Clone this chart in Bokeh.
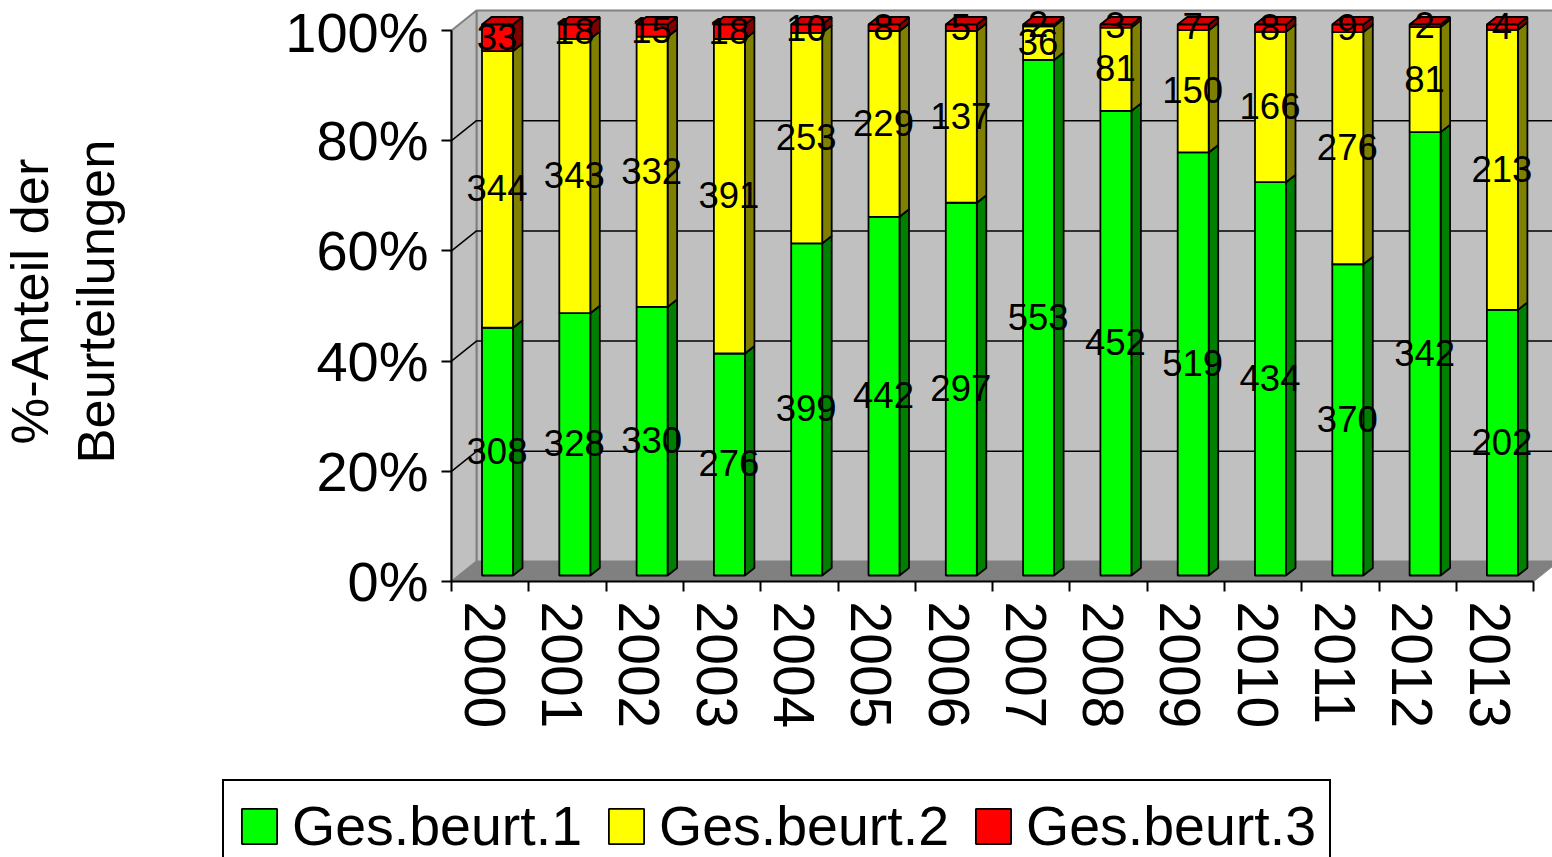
from bokeh.plotting import figure
from bokeh.models import Range1d, FixedTicker, Legend, LegendItem, LinearAxis
from bokeh.core.properties import value
from bokeh.embed import file_html
from bokeh.resources import INLINE
import math

years = [2000, 2001, 2002, 2003, 2004, 2005, 2006, 2007, 2008, 2009, 2010, 2011, 2012, 2013]
beurt1 = [308, 328, 330, 276, 399, 442, 297, 553, 452, 519, 434, 370, 342, 202]
beurt2 = [344, 343, 332, 391, 253, 229, 137, 36, 81, 150, 166, 276, 81, 213]
beurt3 = [33, 18, 15, 18, 10, 8, 5, 2, 3, 7, 8, 9, 2, 4]
series_names = ["Ges.beurt.1", "Ges.beurt.2", "Ges.beurt.3"]
pct_ticks = [0, 20, 40, 60, 80, 100]
title_lines = ["%-Anteil der", "Beurteilungen"]

FONT = "Liberation Sans"
PX_X = 77.3   # pixels per category
PX_Y = 5.51   # pixels per percent


def dx(px):
    return px / PX_X


def dy(px):
    return px / PX_Y


W, H = 1552, 857
ORIGIN_X, ORIGIN_Y = 451, 581  # where category 0 / 0% lie on the canvas

p = figure(width=W, height=H, output_backend="svg", toolbar_location=None,
           x_range=Range1d(dx(-ORIGIN_X), dx(W - ORIGIN_X)),
           y_range=Range1d(dy(ORIGIN_Y - H), dy(ORIGIN_Y)),
           x_axis_type=None, y_axis_type=None,
           min_border_left=0, min_border_bottom=0, min_border_top=0, min_border_right=0)
p.outline_line_color = None
p.grid.visible = False
p.background_fill_color = "white"

n = len(years)
depth_x, depth_y = dx(25), dy(20)
# floor and walls
p.patch([0, depth_x, n + depth_x + dx(30), n + depth_x, n], [0, depth_y, depth_y, depth_y, 0],
        fill_color="#808080", line_color="#808080")
p.patch([depth_x, n + depth_x + dx(30), n + depth_x + dx(30), depth_x],
        [depth_y, depth_y, 100 + depth_y, 100 + depth_y],
        fill_color="#C0C0C0", line_color="#808080", line_width=2)
p.patch([0, depth_x, depth_x, 0], [0, depth_y, 100 + depth_y, 100],
        fill_color="#C0C0C0", line_color="#808080", line_width=2)
for t in pct_ticks[1:-1]:
    p.line([0, depth_x, n + depth_x + dx(30)], [t, t + depth_y, t + depth_y],
           line_color="black", line_width=1.5)

# bars
bar_off = dx(30.5)
bar_w = dx(31)
side_x, side_y = dx(9.5), dy(7.5)
base = dy(6)
fronts = ["#00FF00", "#FFFF00", "#FF0000"]
sides = ["#008000", "#808000", "#800000"]
tops = ["#008000", "#808000", "#C80000"]
front_rends = [None, None, None]
label_x, label_y, label_t = [], [], []
for i in range(n):
    vals = [beurt1[i], beurt2[i], beurt3[i]]
    total = sum(vals)
    cum = 0.0
    x0 = i + bar_off
    x1 = x0 + bar_w
    for s, v in enumerate(vals):
        y0 = base + cum / total * 100
        cum += v
        y1 = base + cum / total * 100
        p.patch([x1, x1 + side_x, x1 + side_x, x1], [y0, y0 + side_y, y1 + side_y, y1],
                fill_color=sides[s], line_color="black", line_width=1.8)
        p.patch([x0, x1, x1 + side_x, x0 + side_x], [y1, y1, y1 + side_y, y1 + side_y],
                fill_color=tops[s], line_color="black", line_width=1.8)
        r = p.quad(left=x0, right=x1, bottom=y0, top=y1,
                   fill_color=fronts[s], line_color="black", line_width=1.8)
        if front_rends[s] is None:
            front_rends[s] = r
        label_x.append((x0 + x1) / 2 - dx(0.5))
        label_y.append((y0 + y1) / 2 + dy(1))
        label_t.append(str(v))

p.text(label_x, label_y, text=label_t, text_font=value(FONT), text_font_size="36.5px",
       text_color="black", text_align="center", text_baseline="middle")

# value-axis title, two rotated lines
p.text([dx(29 - ORIGIN_X), dx(95 - ORIGIN_X)], [dy(ORIGIN_Y - 301)] * 2, text=title_lines,
       angle=math.pi / 2, text_font=value(FONT), text_font_size="52.5px", text_color="black",
       text_align="center", text_baseline="alphabetic")

# axes
yaxis = LinearAxis(ticker=FixedTicker(ticks=pct_ticks), bounds=(0, 100), fixed_location=0, level="annotation")
yaxis.major_label_overrides = {t: f"{t}%" for t in pct_ticks}
yaxis.major_label_text_font = FONT
yaxis.major_label_text_font_size = "56px"
yaxis.major_label_text_color = "black"
yaxis.major_label_standoff = 13
yaxis.major_tick_in = 0
yaxis.major_tick_out = 10
yaxis.major_tick_line_width = 2
yaxis.axis_line_width = 2
yaxis.minor_tick_line_color = None
p.add_layout(yaxis, "left")

centers = [i + 0.43 for i in range(n)]
xaxis = LinearAxis(ticker=FixedTicker(ticks=centers, minor_ticks=list(range(n + 1))), bounds=(0, n),
                   fixed_location=0, level="annotation")
xaxis.major_label_overrides = {c: str(y) for c, y in zip(centers, years)}
xaxis.major_label_orientation = -1.5707963
xaxis.major_label_text_font = FONT
xaxis.major_label_text_font_size = "57px"
xaxis.major_label_text_color = "black"
xaxis.major_label_standoff = 10
xaxis.major_tick_in = 0
xaxis.major_tick_out = 0
xaxis.minor_tick_in = 0
xaxis.minor_tick_out = 10
xaxis.minor_tick_line_width = 2
xaxis.axis_line_width = 2
p.add_layout(xaxis, "below")

legend = Legend(items=[LegendItem(label=value(nm), renderers=[r]) for nm, r in zip(series_names, front_rends)],
                orientation="horizontal", location=(222, -16), margin=0, padding=13, spacing=22,
                label_text_font=FONT, label_text_font_size="55.5px", label_text_color="black",
                glyph_width=44, glyph_height=44, label_standoff=11,
                border_line_color="black", border_line_width=2, border_line_alpha=1,
                background_fill_color="white", background_fill_alpha=1)
p.add_layout(legend, "center")

open("out.html", "w").write(file_html(p, INLINE))
